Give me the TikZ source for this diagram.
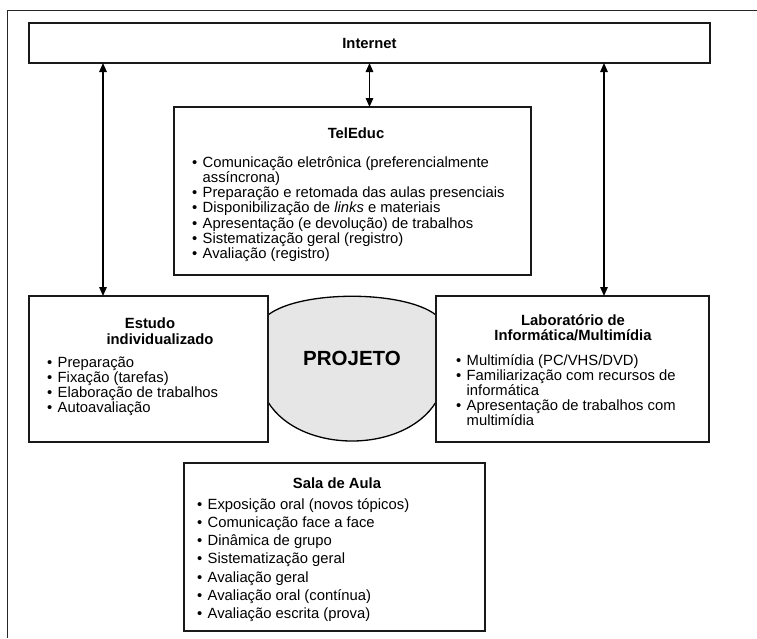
\documentclass[tikz,border=0pt]{standalone}
\usepackage{fontspec}
\setmainfont{Liberation Sans}
\usetikzlibrary{arrows.meta}
\definecolor{projgray}{HTML}{E6E6E6}
\newlength\bw \setlength\bw{10.5pt}
\newcommand\bitem[1]{\makebox[\bw][l]{•}#1}
\newcommand\bcont[1]{\hspace*{\bw}#1}
\begin{document}
\begin{tikzpicture}[x=1pt,y=-1pt,
  box/.style={draw=black!90, line width=1.6pt, inner sep=0pt, outer sep=0pt},
  ttl/.style={inner sep=0pt, anchor=base, font={\fontsize{14.8}{15}\selectfont\bfseries}},
  lst/.style={inner sep=0pt, anchor=base west, font={\fontsize{14.8}{15}\selectfont}},
  dbl/.style={line width=1.4pt, {Triangle[length=9pt,width=7.5pt]}-{Triangle[length=9pt,width=7.5pt]}},
  framel/.style={line width=1pt, black!85}
]
\useasboundingbox (0,0) rectangle (757,638);
% outer frame
\coordinate (fr1) at (757,10);
\coordinate (fr2) at (7,10);
\coordinate (fr3) at (7,638);
\draw[framel] (fr1) -- (fr2) -- (fr3);

% PROJETO shape (behind the boxes)
\path[draw=black, line width=1.3pt, fill=projgray]
  (268,315) .. controls (300,290) and (404,290) .. (436,315) -- (436,402)
  .. controls (404,454) and (300,454) .. (268,402) -- cycle;
\node[inner sep=0pt, anchor=base, font={\fontsize{20.5}{22}\selectfont\bfseries}] (projeto) at (352,365) {PROJETO};

% boxes
\node[box, minimum width=681pt, minimum height=40pt] (internet) at (369.5,43) {};
\node[box, minimum width=357pt, minimum height=168pt] (teleduc) at (352.5,191) {};
\node[box, minimum width=239pt, minimum height=146pt] (estudo) at (148.5,369) {};
\node[box, minimum width=273pt, minimum height=146pt] (lab) at (572.5,369) {};
\node[box, minimum width=301pt, minimum height=168pt] (sala) at (334.5,547) {};

% arrows
\coordinate (xl) at (103,0);
\coordinate (xr) at (604,0);
\draw[dbl] (xl |- internet.south) -- (xl |- estudo.north);
\draw[dbl] (xr |- internet.south) -- (xr |- lab.north);
\draw[dbl] (internet.south) -- (internet.south |- teleduc.north);

% texts
\node[ttl] (internet-t) at (369.5,48) {Internet};

\node[ttl] (teleduc-t) at (356,138) {TelEduc};
\node[lst] (teleduc-l) at (192,167) {\begin{tabular}[t]{@{}l@{}}
\bitem{Comunicação eletrônica (preferencialmente}\\
\bcont{assíncrona)}\\
\bitem{Preparação e retomada das aulas presenciais}\\
\bitem{Disponibilização de \textit{links} e materiais}\\
\bitem{Apresentação (e devolução) de trabalhos}\\
\bitem{Sistematização geral (registro)}\\
\bitem{Avaliação (registro)}
\end{tabular}};

\node[ttl] (estudo-t1) at (150,328) {Estudo};
\node[ttl] (estudo-t2) at (160,344) {individualizado};
\node[lst, font={\fontsize{14.8}{14.5}\selectfont}] (estudo-l) at (47,367) {\begin{tabular}[t]{@{}l@{}}
\bitem{Preparação}\\
\bitem{Fixação (tarefas)}\\
\bitem{Elaboração de trabalhos}\\
\bitem{Autoavaliação}
\end{tabular}};

\node[ttl] (lab-t1) at (573,325) {Laboratório de};
\node[ttl] (lab-t2) at (573,340) {Informática/Multimídia};
\node[lst, font={\fontsize{14.8}{14.3}\selectfont}] (lab-l) at (456,365) {\begin{tabular}[t]{@{}l@{}}
\bitem{Multimídia (PC/VHS/DVD)}\\
\bitem{Familiarização com recursos de}\\
\bcont{informática}\\
\bitem{Apresentação de trabalhos com}\\
\bcont{multimídia}
\end{tabular}};

\node[ttl] (sala-t) at (337,488) {Sala de Aula};
\node[lst, font={\fontsize{14.8}{18.3}\selectfont}] (sala-l) at (197,509) {\begin{tabular}[t]{@{}l@{}}
\bitem{Exposição oral (novos tópicos)}\\
\bitem{Comunicação face a face}\\
\bitem{Dinâmica de grupo}\\
\bitem{Sistematização geral}\\
\bitem{Avaliação geral}\\
\bitem{Avaliação oral (contínua)}\\
\bitem{Avaliação escrita (prova)}
\end{tabular}};
\end{tikzpicture}
\end{document}
